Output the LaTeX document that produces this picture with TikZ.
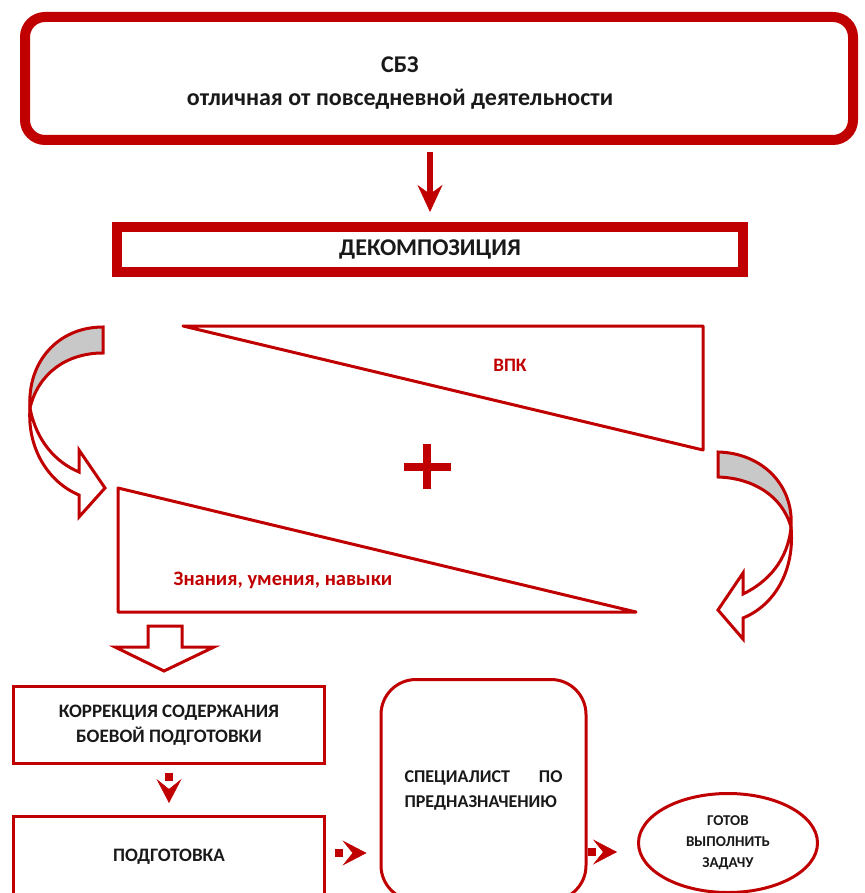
\documentclass[tikz,border=0pt]{standalone}
\usepackage{fontspec}
\setmainfont{Carlito}
\usetikzlibrary{arrows.meta,shapes.geometric}
\definecolor{bordo}{RGB}{192,0,0}
\definecolor{seryj}{RGB}{200,200,200}
\definecolor{tekst}{RGB}{25,25,25}

\begin{document}
\begin{tikzpicture}[x=1pt,y=-1pt,font=\bfseries,text=tekst]
	\tikzstyle{ramka} = [draw=bordo,fill=white,inner sep=0pt]
	\tikzstyle{tolst} = [ramka,line width=10pt]
	\tikzstyle{tonk} = [ramka,line width=3pt]
	\tikzstyle{strelka} = [draw=bordo,line width=3pt,line join=miter]
	\tikzstyle{punktir} = [draw=bordo,line width=8pt,dash pattern=on 8pt off 40pt,
		-{Stealth[length=24pt,width=25pt,inset=10pt,line width=0.5pt]}]

	\useasboundingbox (0,0) rectangle (864,893);

	\node[tolst,rounded corners=20pt,minimum width=828pt,minimum height=123pt,
		label={[name=sbztxt,align=center,xshift=-39pt,yshift=-5pt,font=\bfseries\fontsize{24}{33}\selectfont]center:СБЗ\\отличная от повседневной деятельности}] (sbz) at (439,78.5) {};
	\node[tolst,minimum width=626pt,minimum height=45pt,font=\bfseries\fontsize{24}{28}\selectfont] (dek) at (430,249.5) {ДЕКОМПОЗИЦИЯ};
	\draw[bordo,line width=6pt,shorten <=7pt,shorten >=10pt,-{Stealth[length=27pt,width=25pt,inset=9pt,line width=0.5pt]}] (sbz.south -| dek.north) -- (dek.north);

	% triangles
	\draw[bordo,line width=3pt,line join=round] (183,326) -- (703,326) -- (703,450) -- cycle;
	\node[text=bordo,font=\bfseries\fontsize{19}{22}\selectfont] (vpk) at (510,365) {ВПК};
	\draw[bordo,line width=8pt] (404,467) -- (451,467) (427,444) -- (427,489);
	\draw[bordo,line width=3pt,line join=round] (118,488) -- (118,612) -- (636,612) -- cycle;
	\node[text=bordo,font=\bfseries\fontsize{20.5}{24}\selectfont] (zun) at (283,580) {Знания, умения, навыки};

	% curved arrows
	\draw[strelka,fill=seryj] (103,327) -- (103,353) .. controls (66,353) and (38,374) .. (30,408) .. controls (27,362) and (58,327) .. (103,327) -- cycle;
	\draw[strelka,fill=white] (30,408) .. controls (27,448) and (48,482) .. (79,495) -- (79,517) -- (105,488) -- (79,450) -- (79,472) .. controls (55,462) and (36,440) .. (30,408) -- cycle;
	\draw[strelka,fill=seryj] (718,452) -- (718,477) .. controls (752,478) and (782,495) .. (791,527) .. controls (794,485) and (762,453) .. (718,452) -- cycle;
	\draw[strelka,fill=white] (791,527) .. controls (795,570) and (775,605) .. (743,618) -- (743,639) -- (718,610) -- (743,573) -- (743,594) .. controls (768,582) and (788,560) .. (791,527) -- cycle;

	\draw[strelka,fill=white] (148,626) -- (182,626) -- (182,647) -- (214,647) -- (164,671) -- (115,647) -- (148,647) -- cycle;

	% bottom row
	\node[tonk,minimum width=311pt,minimum height=77pt,align=center,font=\bfseries\fontsize{19}{25}\selectfont] (korr) at (169,725) {КОРРЕКЦИЯ СОДЕРЖАНИЯ\\БОЕВОЙ ПОДГОТОВКИ};
	\node[tonk,minimum width=311pt,minimum height=81pt,font=\bfseries\fontsize{19}{25}\selectfont] (podg) at (169,857) {ПОДГОТОВКА};
	\node[tonk,rounded corners=35pt,minimum width=205pt,minimum height=221pt,text width=158pt,align=left,font=\bfseries\fontsize{18}{25}\selectfont] (spec) at (483.5,790) {СПЕЦИАЛИСТ\hfill ПО\\ПРЕДНАЗНАЧЕНИЮ};
	\node[tonk,ellipse,minimum width=179pt,minimum height=99pt,align=center,font=\bfseries\fontsize{15}{21}\selectfont] (gotov) at (728,843) {ГОТОВ\\ВЫПОЛНИТЬ\\ЗАДАЧУ};

	\draw[punktir,shorten <=8pt,shorten >=12pt] (korr.south) -- (podg.north);
	\draw[punktir,shorten <=9pt,shorten >=13pt] ([yshift=4pt]podg.east) -- ([yshift=4pt]podg.east -| spec.west);
	\draw[punktir,shorten >=20pt] ([yshift=-62pt]spec.east) -- ([yshift=-62pt]spec.east -| gotov.west);
\end{tikzpicture}
\end{document}
